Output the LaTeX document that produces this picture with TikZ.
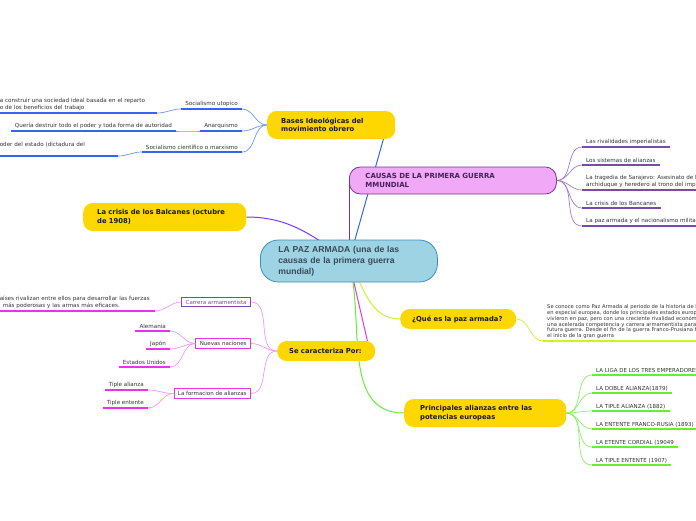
\documentclass[tikz,border=0pt]{standalone}
\usepackage{fontspec}
\setmainfont{DejaVu Sans}
\newfontfamily\rootfont{Liberation Sans}
\usetikzlibrary{positioning,backgrounds}
\definecolor{pzgold}{RGB}{255,215,0}
\definecolor{pzsky}{RGB}{157,211,226}
\definecolor{pzskyline}{RGB}{59,141,197}
\definecolor{pzink}{RGB}{58,72,90}
\definecolor{pzlilac}{RGB}{240,168,247}
\definecolor{pzplum}{RGB}{112,56,150}
\definecolor{pzblue}{RGB}{51,102,238}
\definecolor{pzbluelt}{RGB}{110,150,245}
\definecolor{pzviolet}{RGB}{122,60,240}
\definecolor{pzpurple}{RGB}{122,74,168}
\definecolor{pzpurplelt}{RGB}{160,122,208}
\definecolor{pzmag}{RGB}{232,51,232}
\definecolor{pzmaglt}{RGB}{245,150,245}
\definecolor{pzlime}{RGB}{204,240,50}
\definecolor{pzgreen}{RGB}{102,238,51}
\definecolor{pzgreenlt}{RGB}{140,240,100}
\definecolor{pztext}{RGB}{51,51,51}
\tikzset{
  root/.style={draw=pzskyline, line width=0.8pt, fill=pzsky, rounded corners=18pt,
               text width=141pt, inner xsep=18pt, inner ysep=0pt, minimum height=42pt,
               align=left, text=pzink, font=\rootfont\bfseries\fontsize{8.6}{11}\selectfont},
  topic/.style={fill=pzgold, rounded corners=9.5pt, inner xsep=14pt, inner ysep=0pt,
                align=left, text=black!90, font=\bfseries\fontsize{6.8}{8.6}\selectfont},
  causa/.style={topic, fill=pzlilac, draw=pzplum, line width=0.8pt, text=pzplum!60!black,
                rounded corners=11pt, font=\bfseries\fontsize{7}{8.6}\selectfont},
  box/.style={draw, fill=white, line width=0.9pt, inner xsep=4pt, inner ysep=2.6pt,
              text=pztext, font=\fontsize{5.5}{6.5}\selectfont},
  leaf/.style={inner xsep=4pt, inner ysep=2pt, align=left, text=pztext,
               font=\fontsize{5.6}{7}\selectfont},
  caps/.style={leaf, font=\fontsize{5.5}{7}\selectfont},
  uline/.style={line width=1.8pt},
  twig/.style={line width=0.7pt},
  stem/.style={line width=1pt},
}
\begin{document}
\begin{tikzpicture}[x=1pt,y=-1pt]
\useasboundingbox (0,0) rectangle (696,520);
% main topics
\node[root, anchor=west] (paz) at (260,261) {LA PAZ ARMADA (una de las\\causas de la primera guerra\\mundial)};
\node[topic, anchor=west, text width=100pt, minimum height=28pt] (bases) at (267,125) {Bases Ideológicas del\\movimiento obrero};
\node[causa, anchor=west, text width=175pt, inner xsep=16pt, minimum height=27pt] (causas) at (349,180.5) {CAUSAS DE LA PRIMERA GUERRA\\MMUNDIAL};
\node[topic, anchor=west, text width=135pt, minimum height=28pt] (balc) at (83,217) {La crisis de los Balcanes (octubre\\de 1908)};
\node[topic, anchor=west, text width=92pt, inner xsep=12pt, minimum height=20pt] (que) at (400,319) {¿Qué es la paz armada?};
\node[topic, anchor=west, text width=74pt, inner xsep=12pt, minimum height=20pt] (carac) at (277,351) {Se caracteriza Por:};
\node[topic, anchor=west, text width=130pt, inner xsep=16pt, minimum height=28pt] (alian) at (404,413) {Principales alianzas entre las\\potencias europeas};

% bases ideologicas
\node[leaf, anchor=south east] (utop) at (242,109) {Socialismo utopico};
\node[leaf, anchor=south east] (anar) at (242,131) {Anarquismo};
\node[leaf, anchor=south east] (cien) at (242,152) {Socialismo científico o marxismo};
\node[leaf, anchor=south east, text width=153pt] (utopx) at (157,113) {a construir una sociedad ideal basada en el reparto\\o de los beneficios del trabajo};
\node[leaf, anchor=south east] (anarx) at (176,131) {Quería destruir todo el poder y toda forma de autoridad};
\node[leaf, anchor=south east, text width=114pt, text depth=7pt] (cienx) at (118,156) {oder del estado (dictadura del};

% causas
\node[leaf, anchor=south west] (riv) at (582,147) {Las rivalidades imperialistas};
\node[leaf, anchor=south west] (sist) at (582,165) {Los sistemas de alianzas};
\node[leaf, anchor=south west] (saraj) at (582,190) {La tragedia de Sarajevo: Asesinato de Francisco\\archiduque y heredero al trono del imperio};
\node[leaf, anchor=south west] (banc) at (582,208) {La crisis de los Bancanes};
\node[leaf, anchor=south west] (nacio) at (582,226) {La paz armada y el nacionalismo militarista};

% se caracteriza
\node[box, draw=pzpurple, text=pzpurple, anchor=east] (carrera) at (251,302) {Carrera armamentista};
\node[box, draw=pzmag, anchor=east] (nuevas) at (251,343.5) {Nuevas naciones};
\node[box, draw=pzmag, anchor=east] (formac) at (251,393.5) {La formacion de alianzas};
\node[leaf, anchor=south east, text width=151pt] (carrerax) at (155,311) {aíses rivalizan entre ellos para desarrollar las fuerzas\\\hspace*{3pt}más poderosas y las armas más eficaces.};
\node[leaf, anchor=south east] (alem) at (170,331) {Alemania};
\node[leaf, anchor=south east] (japon) at (170,349) {Japón};
\node[leaf, anchor=south east] (eeuu) at (170,367) {Estados Unidos};
\node[leaf, anchor=south east] (tipa) at (148,390) {Tiple alianza};
\node[leaf, anchor=south east] (tipe) at (148,408) {Tiple entente};

% que es
\node[leaf, anchor=south west, font=\fontsize{5.2}{5.8}\selectfont] (quex) at (543,341) {Se conoce como Paz Armada al periodo de la historia de Europa,\\en especial europea, donde los principales estados europeos\\vivieron en paz, pero con una creciente rivalidad económica y\\una acelerada competencia y carrera armamentista para una\\futura guerra. Desde el fin de la guerra Franco-Prusiana hasta\\el inicio de la gran guerra};

% alianzas
\node[caps, anchor=south west] (liga) at (592,375) {LA LIGA DE LOS TRES EMPERADORES};
\node[caps, anchor=south west] (doble) at (592,393) {LA DOBLE ALIANZA(1879)};
\node[caps, anchor=south west] (tiple) at (592,411) {LA TIPLE ALIANZA (1882)};
\node[caps, anchor=south west] (franco) at (592,429) {LA ENTENTE FRANCO-RUSIA (1893)};
\node[caps, anchor=south west] (cordial) at (592,447) {LA ETENTE CORDIAL (19049};
\node[caps, anchor=south west] (tent) at (592,465) {LA TIPLE ENTENTE (1907)};

\begin{scope}[on background layer]
\draw[stem, pzblue] (paz.center) -- ([xshift=-12pt]bases.south east);
\draw[stem, pzplum] (causas.west |- paz.center) -- (causas.west);
\draw[stem, pzviolet] (balc.east) to[out=0,in=145] (paz.center);
\draw[stem, pzmag] (paz.center) -- ([xshift=-8pt]carac.north east);
\draw[stem, pzlime] (paz.center) to[out=-60,in=180] (que.west);
\draw[stem, pzgreen] (paz.center) to[out=-75,in=180] (alian.west);
\end{scope}

\foreach \n in {utop,anar,cien}
  \draw[twig, pzbluelt] (bases.west) to[out=180,in=0] (\n.south east);
\draw[twig, pzbluelt] (utop.south west) to[out=180,in=0] (utopx.south east);
\draw[twig, pzbluelt] (anar.south west) to[out=180,in=0] (anarx.south east);
\draw[twig, pzbluelt] (cien.south west) to[out=180,in=0] (cienx.south east);
\foreach \n in {utop,anar,cien,utopx,anarx,cienx}
  \draw[uline, pzblue] (\n.south west) -- (\n.south east);

\foreach \n in {riv,sist,saraj,banc,nacio}{
  \draw[twig, pzpurplelt] (causas.east) to[out=0,in=180] (\n.south west);
  \draw[uline, pzpurple] (\n.south west) -- (\n.south east);
}

\foreach \n in {carrera,nuevas,formac}
  \draw[twig, pzmaglt] (carac.west) to[out=180,in=0] (\n.east);
\draw[twig, pzmaglt] (carrera.west) to[out=180,in=0] (carrerax.south east);
\foreach \n in {alem,japon,eeuu}
  \draw[twig, pzmaglt] (nuevas.west) to[out=180,in=0] (\n.south east);
\foreach \n in {tipa,tipe}
  \draw[twig, pzmaglt] (formac.west) to[out=180,in=0] (\n.south east);
\foreach \n in {carrerax,alem,japon,eeuu,tipa,tipe}
  \draw[uline, pzmag] (\n.south west) -- (\n.south east);

\draw[twig, pzlime] (que.east) to[out=0,in=180] (quex.south west);
\draw[uline, pzlime] (quex.south west) -- (quex.south east);

\foreach \n in {liga,doble,tiple,franco,cordial,tent}{
  \draw[twig, pzgreenlt] (alian.east) to[out=0,in=180] (\n.south west);
  \draw[uline, pzgreen] (\n.south west) -- (\n.south east);
}
\end{tikzpicture}
\end{document}
